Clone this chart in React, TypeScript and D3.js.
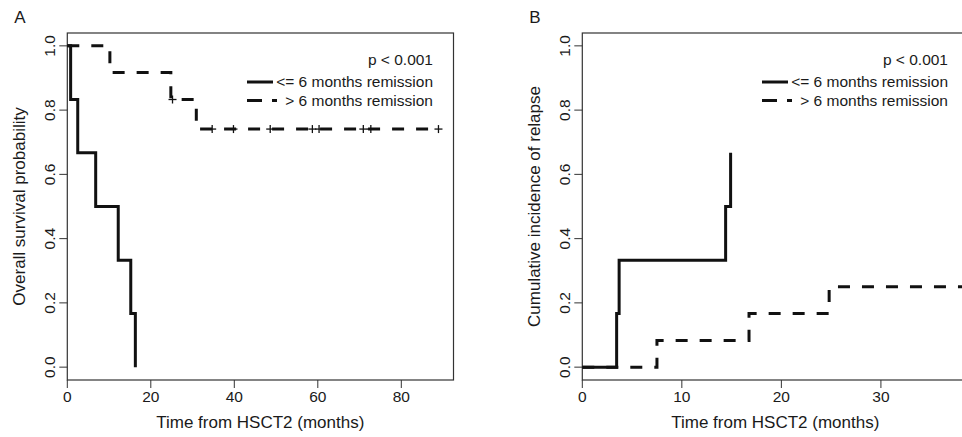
import React from "react";
import * as d3 from "d3";

// Panel A: overall survival (Kaplan-Meier)
const osShortTimes = [0, 0.8, 2.5, 6.8, 12.2, 15.2, 16.3];
const osShortSurv = [1, 0.833, 0.667, 0.5, 0.333, 0.167, 0];
const osLongTimes = [0, 10.2, 24.8, 30.9, 88.9];
const osLongSurv = [1, 0.917, 0.833, 0.741, 0.741];
const osLongCensor = [25.2, 34.7, 39.8, 48.6, 58.7, 60.3, 70.9, 72.7, 88.9];

// Panel B: cumulative incidence of relapse
const relShortTimes = [0, 3.45, 3.7, 14.4, 14.9];
const relShortInc = [0, 0.167, 0.333, 0.5, 0.667];
const relLongTimes = [0, 7.5, 16.75, 24.8, 38.5];
const relLongInc = [0, 0.083, 0.167, 0.25, 0.25];

const yTicks = [0, 0.2, 0.4, 0.6, 0.8, 1.0];
const xTicksA = [0, 20, 40, 60, 80];
const xTicksB = [0, 10, 20, 30];
const legendLabels = ["<= 6 months remission", "> 6 months remission"];
const pText = "p < 0.001";

const W = 962, H = 437;
const top = 33, bottom = 380;
const font = "'Liberation Sans', Arial, Helvetica, sans-serif";
const ink = "#1a1a1a";

type Curve = { times: number[]; vals: number[]; dashed: boolean; censor?: number[] };

function stepAt(times: number[], vals: number[], t: number) {
  let v = vals[0];
  times.forEach((tt, i) => { if (tt <= t) v = vals[i]; });
  return v;
}

function Panel(props: {
  left: number; width: number; xMax: number; xTicks: number[];
  letter: string; yTitle: string; curves: Curve[]; legendRight: number;
}) {
  const { left, width, xMax, xTicks, letter, yTitle, curves, legendRight } = props;
  const x = d3.scaleLinear().domain([0, xMax]).range([left, left + width]);
  const y = d3.scaleLinear().domain([-0.04, 1.04]).range([bottom, top]);
  const line = d3.line<[number, number]>()
    .x(d => x(d[0])).y(d => y(d[1])).curve(d3.curveStepAfter);
  const midY = (top + bottom) / 2;

  return (
    <g fontFamily={font} fill={ink}>
      <text x={left - 53} y={22.5} fontSize={17}>{letter}</text>
      <rect x={left} y={top} width={width} height={bottom - top} fill="none" stroke="#333" strokeWidth={1.2} />
      {/* y axis */}
      {yTicks.map(t => (
        <g key={t}>
          <line x1={left - 8} x2={left} y1={y(t)} y2={y(t)} stroke="#333" strokeWidth={1} />
          <text transform={`translate(${left - 12},${y(t)}) rotate(-90)`} textAnchor="middle" fontSize={15.5}>
            {d3.format(".1f")(t)}
          </text>
        </g>
      ))}
      <text transform={`translate(${left - 42},${midY}) rotate(-90)`} textAnchor="middle" fontSize={17}>{yTitle}</text>
      {/* x axis */}
      {xTicks.map(t => (
        <g key={t}>
          <line x1={x(t)} x2={x(t)} y1={bottom} y2={bottom + 8} stroke="#333" strokeWidth={1} />
          <text x={x(t)} y={402} textAnchor="middle" fontSize={15.5}>{t}</text>
        </g>
      ))}
      <text x={left + 193} y={428} textAnchor="middle" fontSize={17}>Time from HSCT2 (months)</text>
      {/* curves */}
      {curves.map((c, i) => (
        <g key={i}>
          <path
            d={line(c.times.map((t, j) => [t, c.vals[j]] as [number, number])) || ""}
            fill="none" stroke="#111" strokeWidth={3}
            strokeDasharray={c.dashed ? "12,12" : undefined}
          />
          {(c.censor || []).map((t, j) => {
            const cx = x(t), cy = y(stepAt(c.times, c.vals, t));
            return (
              <g key={j} stroke="#111" strokeWidth={1.3}>
                <line x1={cx - 4} x2={cx + 4} y1={cy} y2={cy} />
                <line x1={cx} x2={cx} y1={cy - 4} y2={cy + 4} />
              </g>
            );
          })}
        </g>
      ))}
      {/* legend */}
      <text x={legendRight} y={65} textAnchor="end" fontSize={15.5}>{pText}</text>
      <line x1={legendRight - 186} x2={legendRight - 160} y1={82} y2={82} stroke="#111" strokeWidth={3} />
      <text x={legendRight} y={87} textAnchor="end" fontSize={15.5}>{legendLabels[0]}</text>
      <line x1={legendRight - 186} x2={legendRight - 156} y1={100.5} y2={100.5} stroke="#111" strokeWidth={3} strokeDasharray="15,10" />
      <text x={legendRight} y={106} textAnchor="end" fontSize={15.5}>{legendLabels[1]}</text>
    </g>
  );
}

export default function App() {
  return (
    <svg width={W} height={H} style={{ position: "absolute", left: 0, top: 0, background: "#fff" }}>
      <Panel
        left={67.3} width={386.2} xMax={92.5} xTicks={xTicksA} letter="A"
        yTitle="Overall survival probability" legendRight={433}
        curves={[
          { times: osShortTimes, vals: osShortSurv, dashed: false },
          { times: osLongTimes, vals: osLongSurv, dashed: true, censor: osLongCensor },
        ]}
      />
      <Panel
        left={582.3} width={386.2} xMax={38.8} xTicks={xTicksB} letter="B"
        yTitle="Cumulative incidence of relapse" legendRight={948}
        curves={[
          { times: relShortTimes, vals: relShortInc, dashed: false },
          { times: relLongTimes, vals: relLongInc, dashed: true },
        ]}
      />
    </svg>
  );
}
